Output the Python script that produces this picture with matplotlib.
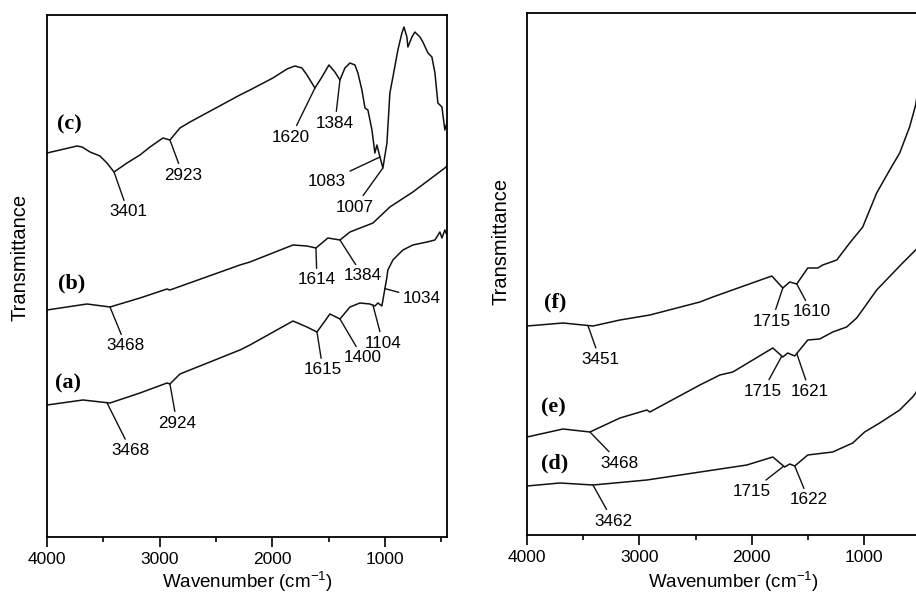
import numpy as np
import matplotlib
matplotlib.use("Agg")
import matplotlib.pyplot as plt

plt.rcParams['font.family'] = ['Liberation Sans', 'DejaVu Sans']
plt.rcParams['mathtext.fontset'] = 'custom'
plt.rcParams['mathtext.rm'] = 'Liberation Sans'
plt.rcParams['mathtext.it'] = 'Liberation Sans:italic'

# FTIR spectra, wavenumber (cm-1) vs transmittance (a.u., stacked)
wn_a = [4000, 3681, 3441, 3175, 2935, 2909, 2820, 2288, 2199, 1817, 1693, 1604, 1489,
        1400, 1311, 1223, 1134, 1090, 1063, 1028, 983, 975, 930, 886, 841, 753, 628,
        557, 513, 495, 469, 451]
t_a = [132, 137, 134, 144, 154, 153, 163, 187, 192, 216, 210, 205, 223,
       218, 230, 234, 233, 231, 234, 231, 260, 267, 277, 282, 287, 292, 295,
       297, 305, 299, 307, 302]

wn_b = [4000, 3645, 3441, 3175, 2935, 2909, 2288, 2199, 1817, 1693, 1613, 1507, 1400,
        1311, 1107, 957, 753, 469, 451]
t_b = [227, 233, 230, 239, 248, 247, 272, 275, 292, 291, 289, 299, 297,
       305, 314, 330, 345, 369, 371]

wn_c = [4000, 3885, 3734, 3689, 3618, 3530, 3468, 3405, 3290, 3175, 3086, 2971, 2909,
        2820, 2731, 2288, 2199, 1995, 1870, 1800, 1737, 1693, 1622, 1560, 1498, 1445,
        1400, 1356, 1311, 1267, 1241, 1205, 1178, 1152, 1116, 1090, 1072, 1045, 1019,
        983, 957, 930, 886, 850, 832, 806, 797, 761, 735, 690, 664, 619, 584, 557, 531,
        495, 469, 451]
t_c = [384, 387, 391, 390, 385, 381, 374, 365, 374, 382, 390, 399, 397,
       409, 415, 442, 447, 459, 468, 471, 469, 462, 449, 460, 472, 465,
       457, 469, 474, 472, 464, 447, 429, 427, 407, 384, 392, 380, 369,
       394, 444, 460, 487, 504, 510, 500, 490, 500, 505, 500, 495, 484, 480, 464, 434,
       430, 407, 414]

wn_d = [4000, 3707, 3413, 2933, 2044, 1813, 1707, 1662, 1618, 1502, 1280, 1102, 996,
        862, 684, 569, 542, 450]
t_d = [49, 52, 50, 55, 70, 78, 68, 71, 69, 80, 83, 92, 103,
       112, 125, 138, 142, 160]

wn_e = [4000, 3680, 3440, 3173, 2933, 2907, 2462, 2284, 2169, 1813, 1724, 1680, 1618,
        1502, 1396, 1280, 1156, 1067, 996, 889, 658, 542, 450]
t_e = [98, 106, 103, 117, 125, 123, 150, 160, 163, 187, 178, 182, 179,
       195, 196, 203, 208, 217, 228, 245, 272, 285, 300]

wn_f = [4000, 3680, 3413, 3173, 2907, 2462, 2347, 1822, 1724, 1662, 1600, 1502, 1413,
        1369, 1244, 1129, 1013, 951, 889, 773, 684, 596, 542, 450]
t_f = [209, 212, 209, 215, 220, 233, 238, 259, 247, 253, 251, 267, 267,
       270, 275, 292, 308, 325, 342, 365, 382, 408, 430, 500]

spectra = {'a': (wn_a, t_a), 'b': (wn_b, t_b), 'c': (wn_c, t_c),
           'd': (wn_d, t_d), 'e': (wn_e, t_e), 'f': (wn_f, t_f)}

# peak labels: curve, text, band position (cm-1)
peaks_left = [('c', '3401', 3405), ('c', '2923', 2909), ('c', '1620', 1622),
              ('c', '1384', 1400), ('c', '1083', 1045), ('c', '1007', 1019),
              ('b', '3468', 3441), ('b', '1614', 1613), ('b', '1384', 1400),
              ('a', '3468', 3468), ('a', '2924', 2909), ('a', '1615', 1604),
              ('a', '1400', 1400), ('a', '1104', 1107), ('a', '1034', 1001)]
peaks_right = [('f', '3451', 3458), ('f', '1715', 1724), ('f', '1610', 1600),
               ('e', '3468', 3440), ('e', '1715', 1733), ('e', '1621', 1600),
               ('d', '3462', 3413), ('d', '1715', 1716), ('d', '1622', 1618)]

# label offsets from the band (pixels: right, up)
offs_left = [(14, -40), (13, -35), (-24, -49), (-5, -43), (-53, -25), (-28, -39),
             (16, -39), (1, -32), (23, -36),
             (24, -48), (7, -39), (6, -38), (23, -39), (10, -38), (37, -10)]
offs_right = [(12, -34), (-11, -33), (15, -28),
              (30, -31), (-19, -35), (13, -38),
              (20, -36), (-32, -25), (14, -34)]

fig = plt.figure(figsize=(9.16, 5.95), dpi=100)
axL = fig.add_axes([47/916, 58/595, 400/916, 522/595])
axR = fig.add_axes([527/916, 60/595, 399/916, 522/595])


def setup(ax):
    ax.set_xlim(4000, 450)
    ax.set_ylim(0, 522)
    ax.set_yticks([])
    ax.set_xticks([4000, 3000, 2000, 1000])
    ax.set_xticks([3500, 2500, 1500, 500], minor=True)
    ax.tick_params(axis='x', which='major', direction='out', length=7, width=1.2,
                   labelsize=12.5, pad=4)
    ax.tick_params(axis='x', which='minor', direction='out', length=3.5, width=1.2)
    for s in ax.spines.values():
        s.set_linewidth(1.3)


def draw(ax, keys, peaks, offs):
    for k in keys:
        w, t = spectra[k]
        ax.plot(w, t, color='#111111', lw=1.1)
    for (k, lab, band), (dx, dy) in zip(peaks, offs):
        w, t = spectra[k]
        y = np.interp(band, w[::-1], t[::-1])
        ax.annotate(lab, xy=(band, y), xytext=(dx * 0.72, dy * 0.72),
                    textcoords='offset points', ha='center', va='center',
                    fontsize=12.3,
                    arrowprops=dict(arrowstyle='-', lw=1.0, color='#111111',
                                    shrinkA=1, shrinkB=0))


setup(axL)
setup(axR)
draw(axL, ['a', 'b', 'c'], peaks_left, offs_left)
draw(axR, ['d', 'e', 'f'], peaks_right, offs_right)

serif = dict(family=['Liberation Serif', 'DejaVu Serif'], fontweight='bold',
             fontsize=16, ha='center', va='center')
axL.text(3805, 413, '(c)', **serif)
axL.text(3778, 254, '(b)', **serif)
axL.text(3814, 154, '(a)', **serif)
axR.text(3751, 233, '(f)', **serif)
axR.text(3769, 128, '(e)', **serif)
axR.text(3751, 72, '(d)', **serif)

fig.text(20/916, 1 - 257/595, 'Transmittance', rotation=90, fontsize=14.5,
         ha='center', va='center')
fig.text(501/916, 1 - 241/595, 'Transmittance', rotation=90, fontsize=14.5,
         ha='center', va='center')
fig.text(247/916, 1/595, 'Wavenumber (cm$^{-1}$)', fontsize=13.5,
         ha='center', va='bottom')
fig.text(733/916, 1/595, 'Wavenumber (cm$^{-1}$)', fontsize=13.5,
         ha='center', va='bottom')

fig.savefig('out.png', dpi=100)
